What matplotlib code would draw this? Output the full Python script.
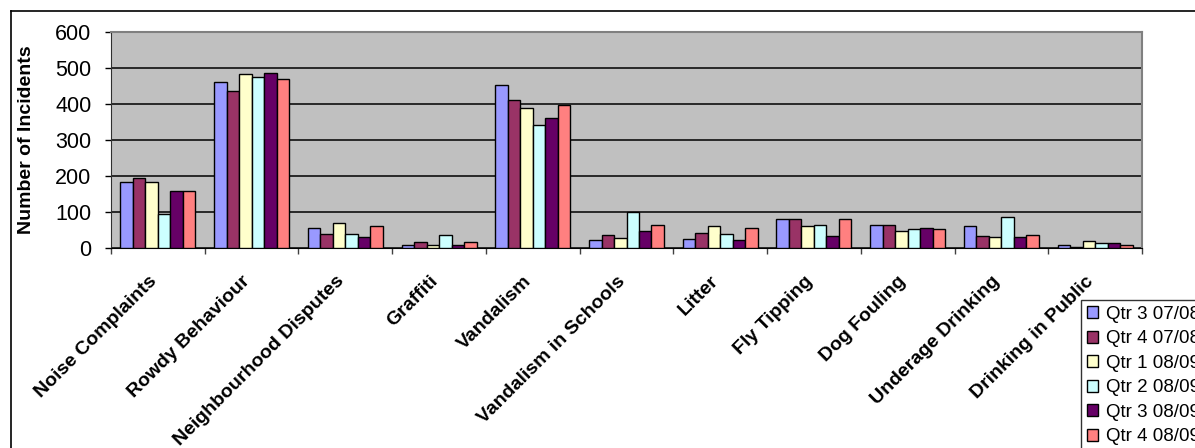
import matplotlib
matplotlib.use("Agg")
import matplotlib.pyplot as plt
from matplotlib.lines import Line2D
import matplotlib.transforms as mtransforms
import numpy as np

plt.rcParams['font.family'] = ['Liberation Sans', 'DejaVu Sans']

categories = ["Noise Complaints", "Rowdy Behaviour", "Neighbourhood Disputes", "Graffiti",
              "Vandalism", "Vandalism in Schools", "Litter", "Fly Tipping", "Dog Fouling",
              "Underage Drinking", "Drinking in Public"]
series_names = ["Qtr 3 07/08", "Qtr 4 07/08", "Qtr 1 08/09", "Qtr 2 08/09", "Qtr 3 08/09", "Qtr 4 08/09"]
qtr3_0708 = [182, 462, 55, 9, 452, 22, 26, 80, 64, 60, 8]
qtr4_0708 = [195, 437, 39, 18, 410, 35, 43, 80, 64, 34, 3]
qtr1_0809 = [182, 483, 69, 8, 390, 27, 60, 60, 47, 30, 19]
qtr2_0809 = [94, 474, 39, 35, 342, 99, 38, 64, 52, 85, 13]
qtr3_0809 = [157, 487, 30, 8, 360, 48, 22, 34, 55, 30, 13]
qtr4_0809 = [157, 470, 60, 18, 398, 64, 55, 80, 52, 35, 8]
series = [qtr3_0708, qtr4_0708, qtr1_0809, qtr2_0809, qtr3_0809, qtr4_0809]
colors = ["#9999FF", "#993366", "#FFFFCC", "#CCFFFF", "#660066", "#FF8080"]
yticks = [0, 100, 200, 300, 400, 500, 600]

W, H = 1195, 448
fig = plt.figure(figsize=(W / 100, H / 100), dpi=100)
ax = fig.add_axes([111 / W, 1 - 248 / H, 1031 / W, 216 / H])
ax.set_facecolor("#C0C0C0")

x = np.arange(len(categories))
bw = 0.8 / len(series)
handles = []
for i, (vals, c, name) in enumerate(zip(series, colors, series_names)):
    b = ax.bar(x - 0.4 + bw * (i + 0.5), vals, width=bw, color=c, edgecolor="black",
               linewidth=1.0, label=name, zorder=3)
    handles.append(b)

ax.set_xlim(-0.5, len(categories) - 0.5)
ax.set_ylim(0, 600)
ax.set_yticks(yticks)
ax.set_yticklabels([str(v) for v in yticks], fontsize=15.5)
ax.yaxis.grid(True, color="black", linewidth=1.1, zorder=1)
ax.set_axisbelow(True)
ax.tick_params(axis="y", direction="out", length=4, width=1, pad=10)

ax.set_xticks(x)
ax.set_xticklabels(categories, fontsize=14, fontweight="bold", rotation=45,
                   ha="right", va="center", rotation_mode="anchor")
ax.tick_params(axis="x", which="major", length=0, pad=22)
shift = mtransforms.ScaledTranslation(-4 / 100, 0, fig.dpi_scale_trans)
for lbl in ax.get_xticklabels():
    lbl.set_transform(lbl.get_transform() + shift)
ax.set_xticks(np.arange(len(categories) + 1) - 0.5, minor=True)
ax.tick_params(axis="x", which="minor", direction="out", length=4, width=1, color="#404040")

ax.set_ylabel("Number of Incidents", fontsize=14, fontweight="bold")
ax.yaxis.set_label_coords((35 - 111) / 1031, 0.5)

for s in ["top", "right"]:
    ax.spines[s].set_color("#808080")
    ax.spines[s].set_linewidth(1.5)
ax.spines["left"].set_color("#303030")
ax.spines["bottom"].set_color("black")

leg = fig.legend(handles=handles, labels=series_names, loc="upper left",
                 bbox_to_anchor=(1081 / W, 1 - 300 / H), bbox_transform=fig.transFigure,
                 fontsize=13.5, frameon=True, fancybox=False, shadow=False,
                 borderpad=0.31, labelspacing=0.4, handlelength=0.6, handleheight=0.6,
                 handletextpad=0.4, borderaxespad=0)
leg.get_frame().set_edgecolor("black")
leg.get_frame().set_linewidth(1.0)

fig.add_artist(Line2D([11 / W, 11 / W], [0, 1 - 11 / H], transform=fig.transFigure,
                      color="black", linewidth=1.2))
fig.add_artist(Line2D([11 / W, 1], [1 - 11 / H, 1 - 11 / H], transform=fig.transFigure,
                      color="black", linewidth=1.2))

fig.savefig("out.png", dpi=100)
